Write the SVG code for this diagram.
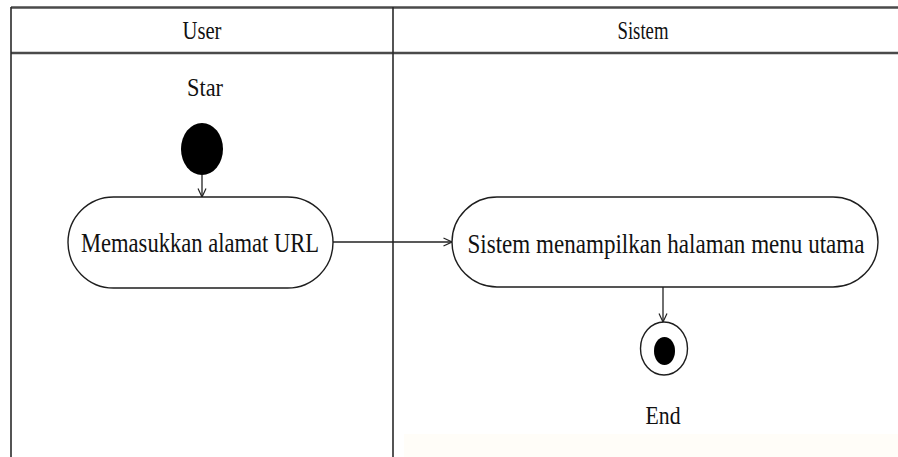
<svg xmlns="http://www.w3.org/2000/svg" width="898" height="457" viewBox="0 0 898 457">
  <style>
    .lane { stroke: #2a2a2a; stroke-width: 1.6; fill: none; }
    .head { stroke: #4a4a4a; stroke-width: 2.4; fill: none; }
    .act { fill: #ffffff; stroke: #1e1e1e; stroke-width: 1.4; }
    .flow { stroke: #222; stroke-width: 1.3; fill: none; marker-end: url(#open); }
    text { font-family: "Liberation Serif", "Times New Roman", serif; fill: #111; }
    .lbl { font-size: 25px; text-anchor: middle; }
    .atx { font-size: 28px; text-anchor: middle; }
  </style>
  <defs>
    <marker id="open" viewBox="0 0 10 10" refX="9.5" refY="5" markerWidth="10" markerHeight="10" markerUnits="userSpaceOnUse" orient="auto">
      <path d="M1,1 L9.5,5 L1,9" fill="none" stroke="#222" stroke-width="1.2"/>
    </marker>
  </defs>

  <rect x="0" y="0" width="898" height="457" fill="#ffffff"/>
  <rect x="404" y="434" width="494" height="23" fill="#fffdf8"/>

  <!-- swimlane frame -->
  <g id="lanes">
    <line class="head" x1="11" y1="7.5" x2="898" y2="7.5"/>
    <line class="head" x1="11" y1="53" x2="898" y2="53"/>
    <line class="lane" x1="11" y1="7" x2="11" y2="457"/>
    <line class="lane" x1="393" y1="7" x2="393" y2="457"/>
    <text class="lbl" x="202" y="39" textLength="39" lengthAdjust="spacingAndGlyphs">User</text>
    <text class="lbl" x="643" y="39" textLength="51" lengthAdjust="spacingAndGlyphs">Sistem</text>
  </g>

  <!-- connectors -->
  <g id="connectors">
    <line class="flow" x1="202" y1="175" x2="202" y2="197"/>
    <line class="flow" x1="333" y1="242" x2="452" y2="242"/>
    <line class="flow" x1="663" y1="287" x2="663" y2="322"/>
  </g>

  <g id="start">
    <text class="lbl" x="205" y="96" textLength="36" lengthAdjust="spacingAndGlyphs">Star</text>
    <ellipse cx="202" cy="149" rx="21" ry="26" fill="#000"/>
  </g>

  <g id="act-url">
    <rect class="act" x="68" y="197" width="265" height="91" rx="45.5" ry="45.5"/>
    <text class="atx" x="200" y="252" textLength="238" lengthAdjust="spacingAndGlyphs">Memasukkan alamat URL</text>
  </g>

  <g id="act-menu">
    <rect class="act" x="452" y="197" width="426" height="90" rx="45" ry="45"/>
    <text class="atx" x="666" y="253" textLength="397" lengthAdjust="spacingAndGlyphs">Sistem menampilkan halaman menu utama</text>
  </g>

  <g id="end">
    <ellipse cx="664" cy="348.5" rx="23.5" ry="26.5" fill="#fff" stroke="#1e1e1e" stroke-width="1.4"/>
    <ellipse cx="664.5" cy="351" rx="10.5" ry="14" fill="#000"/>
    <text class="lbl" x="663" y="424" textLength="35" lengthAdjust="spacingAndGlyphs">End</text>
  </g>
</svg>
